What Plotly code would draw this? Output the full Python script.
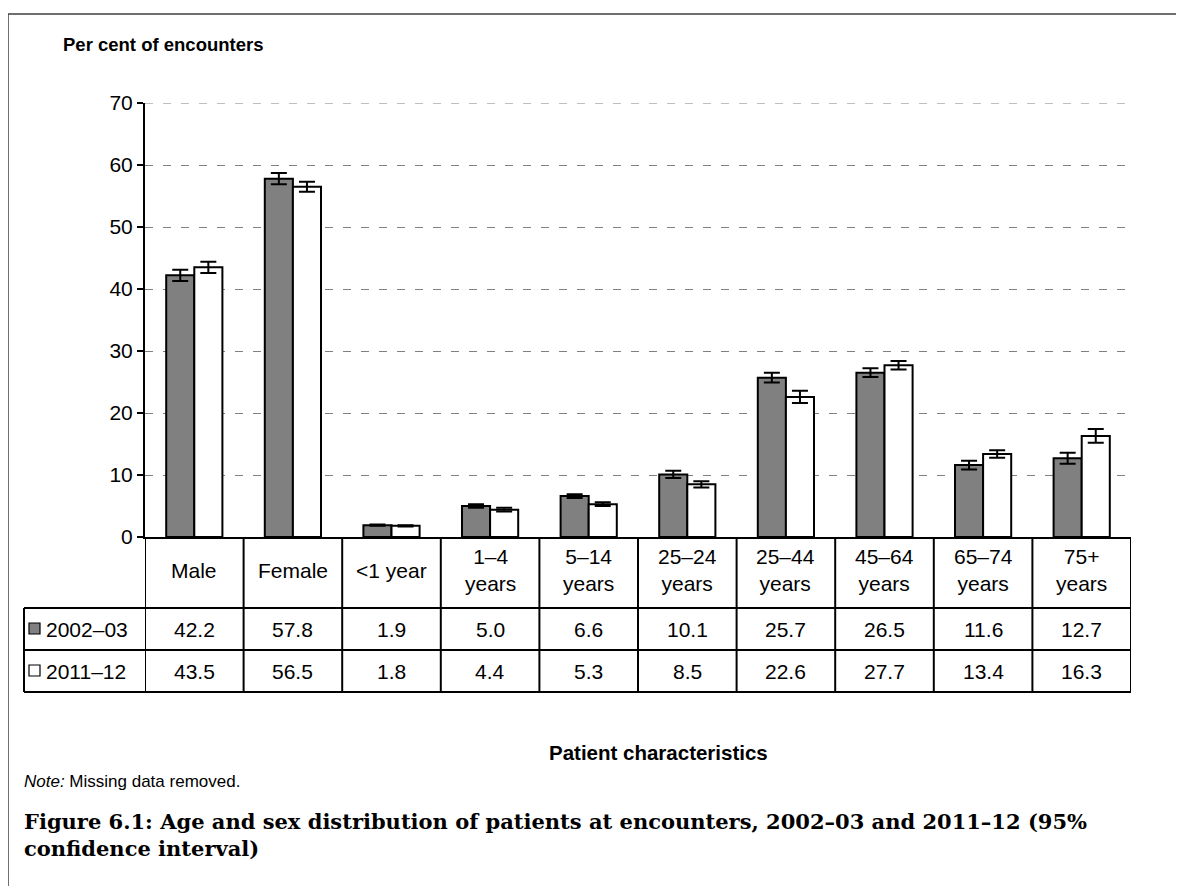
import plotly.graph_objects as go

categories = ["Male", "Female", "<1 year", "1–4 years", "5–14 years", "25–24 years",
              "25–44 years", "45–64 years", "65–74 years", "75+ years"]
cat_labels = ["Male", "Female", "<1 year", "1–4<br>years", "5–14<br>years", "25–24<br>years",
              "25–44<br>years", "45–64<br>years", "65–74<br>years", "75+<br>years"]
series_names = ["2002–03", "2011–12"]
vals_2002 = [42.2, 57.8, 1.9, 5.0, 6.6, 10.1, 25.7, 26.5, 11.6, 12.7]
vals_2011 = [43.5, 56.5, 1.8, 4.4, 5.3, 8.5, 22.6, 27.7, 13.4, 16.3]
ci_2002 = [0.9, 0.9, 0.1, 0.3, 0.3, 0.6, 0.8, 0.7, 0.7, 0.9]
ci_2011 = [0.9, 0.8, 0.1, 0.3, 0.3, 0.5, 1.0, 0.7, 0.6, 1.1]
y_ticks = [0, 10, 20, 30, 40, 50, 60, 70]

# page offset from the default body margin of the html page
OFF = 8
W, H = 1184 - OFF, 886 - OFF
# plot area in screen pixels
L, R, T, B = 145, 1131, 103, 537
PW, PH = R - L, B - T

def px(x):
    return (x - L) / PW

def py(y):
    return (B - y) / PH

SANS = "Liberation Sans, Arial, sans-serif"
SERIF = "DejaVu Serif, serif"
TXT = 21

fig = go.Figure()
fig.add_trace(go.Bar(
    x=categories, y=vals_2002, name=series_names[0],
    marker=dict(color="#808080", line=dict(color="black", width=2)),
    error_y=dict(type="data", array=ci_2002, color="black", thickness=2, width=8),
))
fig.add_trace(go.Bar(
    x=categories, y=vals_2011, name=series_names[1],
    marker=dict(color="white", line=dict(color="black", width=2)),
    error_y=dict(type="data", array=ci_2011, color="black", thickness=2, width=8),
))

shapes = []
annotations = []

# Outer frame
shapes.append(dict(type="rect", xref="paper", yref="paper",
                   x0=px(8), x1=px(1200), y0=py(14), y1=py(900),
                   line=dict(color="#404040", width=1.5), fillcolor="rgba(0,0,0,0)", layer="below"))

# top gridline at 70
shapes.append(dict(type="line", xref="paper", yref="y", x0=0, x1=1, y0=y_ticks[-1], y1=y_ticks[-1],
                   line=dict(color="#808080", width=1.2, dash="8px,10px"), layer="below"))

# Table geometry (screen pixels)
row_top, row1, row2, row3 = 537, 608, 650, 692
left_col = 24
lw = 2
for yy in (row1, row2, row3):
    shapes.append(dict(type="line", xref="paper", yref="paper",
                       x0=px(left_col), x1=px(R), y0=py(yy), y1=py(yy),
                       line=dict(color="black", width=lw)))
n = len(categories)
for i in range(n + 1):
    shapes.append(dict(type="line", xref="x", yref="paper",
                       x0=i - 0.5, x1=i - 0.5, y0=py(row_top), y1=py(row3),
                       line=dict(color="black", width=lw)))
shapes.append(dict(type="line", xref="paper", yref="paper",
                   x0=px(left_col), x1=px(left_col), y0=py(row1), y1=py(row3),
                   line=dict(color="black", width=lw)))

for i, lab in enumerate(cat_labels):
    annotations.append(dict(x=i, y=py(570), xref="x", yref="paper", text=lab,
                            showarrow=False, font=dict(family=SANS, size=TXT, color="black"),
                            xanchor="center", yanchor="middle", align="center"))
for vals, yy in [(vals_2002, 629), (vals_2011, 671)]:
    for i, v in enumerate(vals):
        annotations.append(dict(x=i, y=py(yy), xref="x", yref="paper", text=f"{v:.1f}",
                                showarrow=False, font=dict(family=SANS, size=TXT, color="black"),
                                xanchor="center", yanchor="middle"))
for name, yy, col in [(series_names[0], 629, "#808080"), (series_names[1], 671, "white")]:
    shapes.append(dict(type="rect", xref="paper", yref="paper",
                       x0=px(29), x1=px(40), y0=py(yy + 5), y1=py(yy - 6),
                       fillcolor=col, line=dict(color="black", width=1.2)))
    annotations.append(dict(x=px(44), y=py(yy), xref="paper", yref="paper", text=name,
                            showarrow=False, font=dict(family=SANS, size=TXT, color="black"),
                            xanchor="left", yanchor="middle"))

annotations.append(dict(x=px(61), y=py(44), xref="paper", yref="paper",
                        text="<b>Per cent of encounters</b>", showarrow=False,
                        font=dict(family=SANS, size=18.5, color="black"),
                        xanchor="left", yanchor="middle"))
annotations.append(dict(x=px(658), y=py(752), xref="paper", yref="paper",
                        text="<b>Patient characteristics</b>", showarrow=False,
                        font=dict(family=SANS, size=20.5, color="black"),
                        xanchor="center", yanchor="middle"))
annotations.append(dict(x=px(22), y=py(781), xref="paper", yref="paper",
                        text="<i>Note:</i> Missing data removed.", showarrow=False,
                        font=dict(family=SANS, size=17, color="black"),
                        xanchor="left", yanchor="middle"))
annotations.append(dict(x=px(22), y=py(835), xref="paper", yref="paper",
                        text="<b>Figure 6.1: Age and sex distribution of patients at encounters, 2002–03 and 2011–12 (95%<br>confidence interval)</b>",
                        showarrow=False, align="left",
                        font=dict(family=SERIF, size=21, color="black"),
                        xanchor="left", yanchor="middle"))

fig.update_layout(
    width=W, height=H, autosize=False,
    margin=dict(l=L - OFF, r=W - (R - OFF), t=T - OFF, b=H - (B - OFF), pad=0),
    paper_bgcolor="white", plot_bgcolor="white",
    barmode="group", bargap=0.43, bargroupgap=0,
    showlegend=False,
    shapes=shapes, annotations=annotations,
    font=dict(family=SANS, color="black"),
)
fig.update_xaxes(showticklabels=False, showgrid=False, showline=True, linecolor="black",
                 linewidth=2, ticks="", zeroline=False, range=[-0.5, n - 0.5])
fig.update_yaxes(range=[0, 70], tickvals=y_ticks, showgrid=True, gridcolor="#808080",
                 gridwidth=1.2, griddash="8px,10px", showline=True, linecolor="black",
                 linewidth=2, ticks="outside", ticklen=6, tickwidth=2, tickcolor="black",
                 tickfont=dict(family=SANS, size=TXT, color="black"), zeroline=False)

fig.write_html("out.html")
